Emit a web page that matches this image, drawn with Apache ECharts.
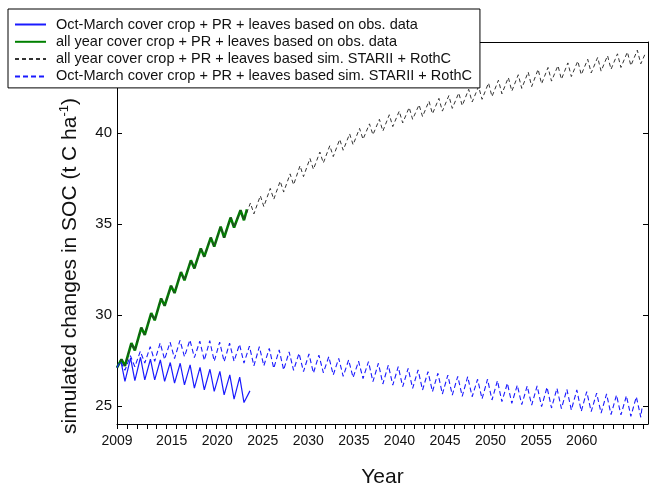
<!DOCTYPE html>
<html>
<head>
<meta charset="utf-8">
<script src="https://cdn.jsdelivr.net/npm/echarts@6/dist/echarts.min.js"></script>
<style>
  html, body { margin: 0; padding: 0; background: #fff; }
  #chart { width: 650px; height: 485px; }
</style>
</head>
<body>
<div id="chart"></div>
<script>
// ---------------- data ----------------
const seriesNames = [
  'Oct-March cover crop + PR + leaves based on obs. data',
  'all year cover crop + PR + leaves based on obs. data',
  'all year cover crop + PR + leaves based sim. STARII + RothC',
  'Oct-March cover crop + PR + leaves based sim. STARII + RothC'
];
const xTickLabels = [2009, 2015, 2020, 2025, 2030, 2035, 2040, 2045, 2050, 2055, 2060];
const yTickLabels = [25, 30, 35, 40];
const xTitle = 'Year';
const yTitle = 'simulated changes in SOC (t C ha{sup|-1})';

// x axis: each seasonal cycle spans one minor tick
const START_YEAR = 2009;
const CYCLE_YEARS = 1.0888;  // width of one seasonal cycle (minor tick spacing) in axis years
const X_MAX = 2067.28;

// Oct-March obs (blue solid): value at start, per-cycle peak & trough, end
const obsOctMarStart = 27.1;
const obsOctMarPeak   = [27.53, 27.62, 27.67, 27.56, 27.52, 27.38, 27.34, 27.25, 27.11, 27.01, 26.89, 26.70, 26.58];
const obsOctMarTrough = [26.34, 26.39, 26.43, 26.43, 26.34, 26.25, 26.15, 25.97, 25.88, 25.79, 25.60, 25.37, 25.18];
const obsOctMarEnd = [13.4, 25.82];

// all year obs (green)
const obsAllYearStart = 27.1;
const obsAllYearPeak   = [27.55, 28.45, 29.30, 30.10, 30.90, 31.60, 32.35, 33.00, 33.65, 34.25, 34.85, 35.35, 35.75];
const obsAllYearTrough = [27.20, 28.05, 28.90, 29.70, 30.50, 31.20, 31.90, 32.55, 33.20, 33.75, 34.25, 34.80, 35.20];
const obsAllYearEnd = [13.1, 35.80];

// all year sim (black dashed)
const simAllYearStart = 27.1;
const simAllYearPeak = [
  27.55, 28.45, 29.30, 30.10, 30.90, 31.60, 32.35, 33.00, 33.65, 34.25,
  34.85, 35.35, 35.75, 36.15, 36.55, 36.95, 37.35, 37.75, 38.20, 38.60,
  38.95, 39.30, 39.65, 39.95, 40.25, 40.50, 40.75, 41.00, 41.20, 41.40,
  41.55, 41.75, 41.90, 42.05, 42.20, 42.40, 42.55, 42.75, 42.90, 43.05,
  43.20, 43.35, 43.50, 43.60, 43.70, 43.85, 43.95, 44.05, 44.15, 44.25,
  44.35, 44.45, 44.55
];
const simAllYearTrough = [
  27.20, 28.05, 28.90, 29.70, 30.50, 31.20, 31.90, 32.55, 33.20, 33.75,
  34.25, 34.80, 35.20, 35.55, 35.95, 36.35, 36.75, 37.15, 37.60, 38.00,
  38.35, 38.70, 39.05, 39.35, 39.65, 39.90, 40.10, 40.35, 40.55, 40.75,
  40.90, 41.05, 41.20, 41.35, 41.50, 41.70, 41.85, 42.00, 42.15, 42.30,
  42.45, 42.55, 42.70, 42.85, 42.95, 43.10, 43.20, 43.30, 43.40, 43.50,
  43.60, 43.70, 43.80
];
const simAllYearEnd = [53.2, 44.30];

// Oct-March sim (blue dashed)
const simOctMarStart = 27.1;
const simOctMarPeak = [
  27.45, 27.75, 28.00, 28.25, 28.45, 28.50, 28.60, 28.62, 28.55, 28.58,
  28.50, 28.44, 28.38, 28.28, 28.25, 28.16, 28.07, 27.97, 27.89, 27.85,
  27.79, 27.70, 27.61, 27.52, 27.45, 27.43, 27.34, 27.24, 27.15, 27.06,
  26.97, 26.88, 26.79, 26.69, 26.62, 26.60, 26.46, 26.46, 26.38, 26.24,
  26.14, 26.09, 26.09, 26.02, 25.96, 25.90, 25.87, 25.78, 25.70, 25.65,
  25.59, 25.55, 25.50
];
const simOctMarTrough = [
  26.95, 27.15, 27.35, 27.45, 27.55, 27.60, 27.70, 27.65, 27.50, 27.45,
  27.42, 27.45, 27.35, 27.20, 27.20, 27.06, 26.97, 26.95, 26.88, 26.80,
  26.82, 26.70, 26.62, 26.55, 26.50, 26.33, 26.20, 26.14, 26.05, 25.96,
  25.87, 25.78, 25.65, 25.59, 25.52, 25.50, 25.38, 25.32, 25.23, 25.14,
  25.06, 25.04, 24.95, 24.88, 24.85, 24.77, 24.70, 24.68, 24.60, 24.52,
  24.50, 24.42, 24.37
];
const simOctMarEnd = [52.95, 25.00];

// ---------------- build series points ----------------
function cycleX(c) { return START_YEAR + c * CYCLE_YEARS; }
function buildSeries(start, peaks, troughs, end, peakPhase, troughPhase) {
  const pts = [[cycleX(0), start]];
  for (let k = 0; k < peaks.length; k++) {
    pts.push([cycleX(k + peakPhase), peaks[k]]);
    pts.push([cycleX(k + troughPhase), troughs[k]]);
  }
  pts.push([cycleX(end[0]), end[1]]);
  return pts;
}

const xTicks = [];
for (let k = 0; cycleX(k) <= X_MAX; k++) xTicks.push(cycleX(k));

const FONT = 'Liberation Sans, Arial, Helvetica, sans-serif';
const BLUE = '#1a1aff';

const chart = echarts.init(document.getElementById('chart'), null, { renderer: 'canvas' });
chart.setOption({
  animation: false,
  backgroundColor: '#ffffff',
  textStyle: { fontFamily: FONT, color: '#000' },
  grid: { left: 117, right: 2, top: 42, bottom: 61, containLabel: false, outerBoundsMode: 'none' },
  legend: {
    orient: 'vertical',
    left: 8, top: 9,
    padding: [8, 8, 4, 6],
    itemWidth: 31, itemHeight: 14, itemGap: 2.3,
    backgroundColor: '#fff',
    borderColor: '#000', borderWidth: 1,
    itemStyle: { opacity: 0 },
    textStyle: { fontFamily: FONT, fontSize: 14.5, lineHeight: 14, color: '#111', padding: [0, 0, 0, 5] },
    data: seriesNames
  },
  graphic: [{
    type: 'text', x: 70, y: 266, rotation: Math.PI / 2, silent: true,
    style: {
      text: yTitle, fontSize: 21, fontFamily: FONT, fill: '#111',
      align: 'center', verticalAlign: 'middle', lineHeight: 24,
      rich: { sup: { fontSize: 13, fontFamily: FONT, fill: '#111', verticalAlign: 'top', lineHeight: 24 } }
    }
  }],
  xAxis: [{
    type: 'value', min: START_YEAR, max: X_MAX, position: 'bottom',
    axisLine: { show: true, onZero: false, lineStyle: { color: '#000', width: 1 } },
    axisTick: { show: true, inside: false, length: 5, customValues: xTicks, lineStyle: { color: '#000' } },
    axisLabel: { customValues: xTickLabels, formatter: v => String(v), fontSize: 14, color: '#111', margin: 10, fontFamily: FONT },
    splitLine: { show: false },
    name: xTitle, nameLocation: 'middle', nameGap: 43,
    nameTextStyle: { fontSize: 21, color: '#111', fontFamily: FONT }
  }, {
    type: 'value', min: START_YEAR, max: X_MAX, position: 'top',
    axisLine: { show: true, onZero: false, lineStyle: { color: '#000', width: 1 } },
    axisTick: { show: false }, axisLabel: { show: false }, splitLine: { show: false }
  }],
  yAxis: [{
    type: 'value', min: 24, max: 45, position: 'left',
    axisLine: { show: true, onZero: false, lineStyle: { color: '#000', width: 1 } },
    axisTick: { show: true, inside: true, length: 5, customValues: yTickLabels, lineStyle: { color: '#000' } },
    axisLabel: { customValues: yTickLabels, fontSize: 15, color: '#111', margin: 5, fontFamily: FONT },
    splitLine: { show: false }
  }, {
    type: 'value', min: 24, max: 45, position: 'right',
    axisLine: { show: true, onZero: false, lineStyle: { color: '#000', width: 1 } },
    axisTick: { show: true, inside: true, length: 5, customValues: yTickLabels, lineStyle: { color: '#000' } },
    axisLabel: { show: false }, splitLine: { show: false }
  }],
  series: [
    {
      name: seriesNames[0], type: 'line', symbol: 'none', color: BLUE,
      lineStyle: { color: BLUE, width: 1.2 },
      data: buildSeries(obsOctMarStart, obsOctMarPeak, obsOctMarTrough, obsOctMarEnd, 0.37, 0.8)
    },
    {
      name: seriesNames[1], type: 'line', symbol: 'none', color: '#008000',
      lineStyle: { color: '#008000', width: 2.6 },
      data: buildSeries(obsAllYearStart, obsAllYearPeak, obsAllYearTrough, obsAllYearEnd, 0.45, 0.8)
    },
    {
      name: seriesNames[2], type: 'line', symbol: 'none', color: '#333',
      lineStyle: { color: '#333', width: 1, type: [4, 3] },
      data: buildSeries(simAllYearStart, simAllYearPeak, simAllYearTrough, simAllYearEnd, 0.45, 0.8)
    },
    {
      name: seriesNames[3], type: 'line', symbol: 'none', color: BLUE,
      lineStyle: { color: BLUE, width: 1.1, type: [5, 3] },
      data: buildSeries(simOctMarStart, simOctMarPeak, simOctMarTrough, simOctMarEnd, 0.35, 0.8)
    }
  ]
});
</script>
</body>
</html>
